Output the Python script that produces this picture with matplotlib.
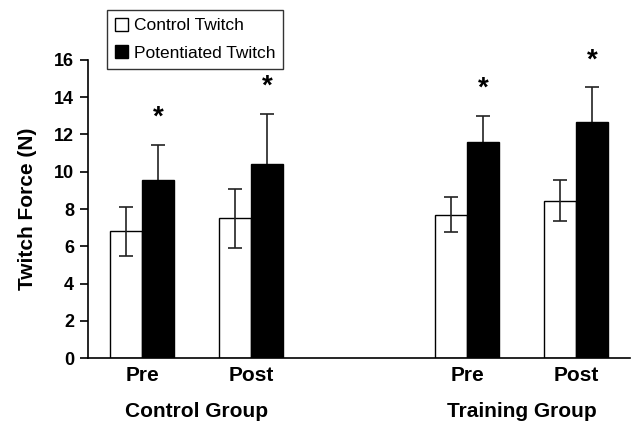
import numpy as np
import matplotlib
matplotlib.use('Agg')
import matplotlib.pyplot as plt
from matplotlib.patches import Patch

plt.rcParams['font.family'] = ['Liberation Sans', 'DejaVu Sans']

# data
conditions = ['Pre', 'Post', 'Pre', 'Post']
groups = ['Control Group', 'Training Group']
control_twitch = [6.8, 7.5, 7.7, 8.45]
control_err = [1.3, 1.57, 0.92, 1.1]
potentiated_twitch = [9.57, 10.43, 11.6, 12.65]
potentiated_err = [1.88, 2.67, 1.42, 1.88]
significant = [True, True, True, True]

centers = np.array([0, 3.41, 10.16, 13.56])
w = 1.0

fig = plt.figure(figsize=(6.33, 4.23), dpi=100)
ax = fig.add_axes([88/633, 1-358/423, 542/633, 298/423])

ax.bar(centers - w/2, control_twitch, w, color='white', edgecolor='black', linewidth=1.0, zorder=2)
ax.bar(centers + w/2, potentiated_twitch, w, color='black', edgecolor='black', linewidth=1.0, zorder=2)
ax.errorbar(centers - w/2, control_twitch, yerr=control_err, fmt='none', ecolor='#222222',
            elinewidth=1.2, capsize=5, capthick=1.2, zorder=3)
ax.errorbar(centers + w/2, potentiated_twitch, yerr=potentiated_err, fmt='none', ecolor='#222222',
            elinewidth=1.2, capsize=5, capthick=1.2, zorder=1)

for c, v, e, s in zip(centers, potentiated_twitch, potentiated_err, significant):
    if s:
        ax.text(c + w/2, v + e + 0.75, '*', ha='center', va='bottom', fontsize=20, fontweight='bold')

ax.set_xlim(-1.69, 15.25)
ax.set_ylim(0, 16)
ax.set_yticks(np.arange(0, 17, 2))
ax.tick_params(axis='y', direction='out', length=6, width=1.2, labelsize=13, pad=4)
for lab in ax.get_yticklabels():
    lab.set_fontweight('bold')
ax.set_xticks(centers)
ax.set_xticklabels(conditions, fontsize=15, fontweight='bold')
ax.tick_params(axis='x', length=0, pad=6)
for sp in ['top', 'right']:
    ax.spines[sp].set_visible(False)
ax.spines['left'].set_linewidth(1.2)
ax.spines['bottom'].set_linewidth(1.2)

ax.set_ylabel('Twitch Force (N)', fontsize=15, fontweight='bold', labelpad=12)

for i, g in enumerate(groups):
    mid = (centers[2*i] + centers[2*i+1]) / 2
    ax.text(mid, -2.85, g, ha='center', va='center', fontsize=15, fontweight='bold')

handles = [Patch(facecolor='white', edgecolor='black', linewidth=1),
           Patch(facecolor='black', edgecolor='black', linewidth=1)]
leg = fig.legend(handles, ['Control Twitch', 'Potentiated Twitch'], loc='upper left',
                 bbox_to_anchor=(107/633, 1-10/423), fontsize=12.5, frameon=True,
                 fancybox=False, edgecolor='black', handlelength=0.75, handleheight=0.75,
                 handletextpad=0.35, borderpad=0.45, labelspacing=0.7, borderaxespad=0)
leg.get_frame().set_linewidth(1.0)

fig.savefig('out.png', dpi=100)
